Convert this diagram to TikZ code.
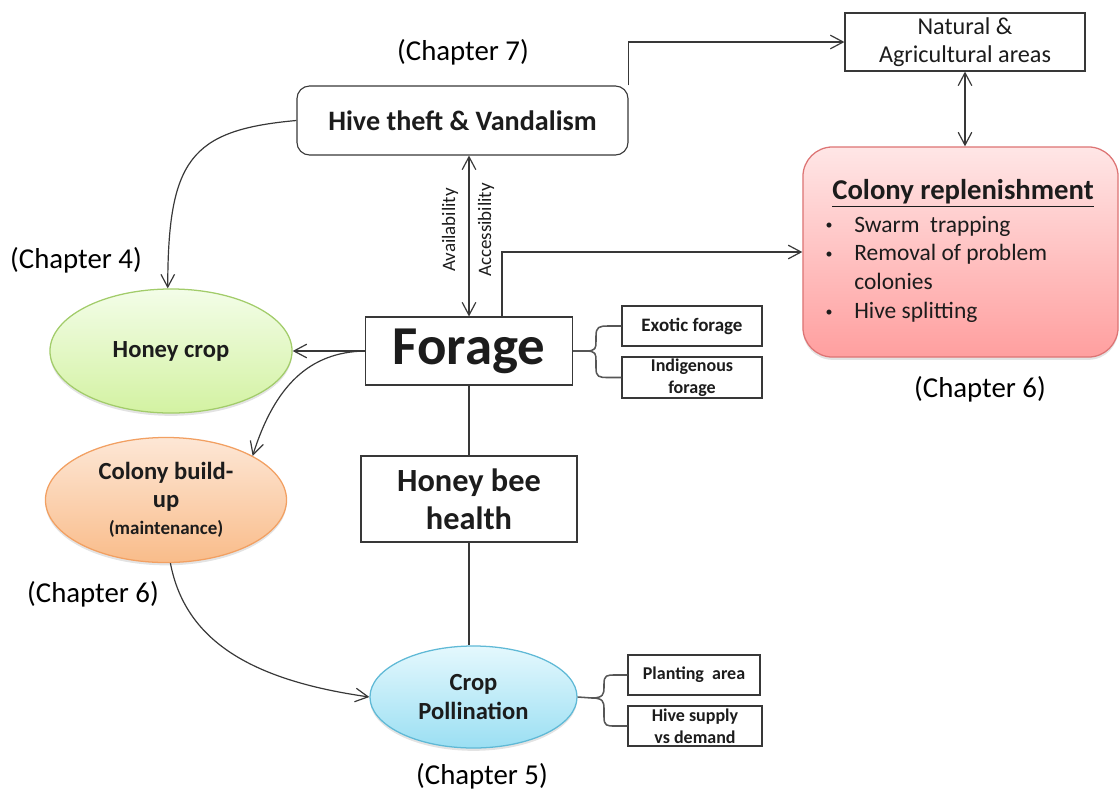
\documentclass[tikz,border=0pt]{standalone}
\usepackage{fontspec}
\setmainfont{Carlito}
\usetikzlibrary{calc,arrows.meta,shapes.geometric,shadows,positioning}

\definecolor{lineg}{HTML}{383838}
\definecolor{txt}{HTML}{1C1C1C}
\definecolor{grnT}{HTML}{F3FDE8}\definecolor{grnB}{HTML}{D3F2A2}\definecolor{grnD}{HTML}{A2CC6A}
\definecolor{orgT}{HTML}{FDE7D6}\definecolor{orgB}{HTML}{F9BC8A}\definecolor{orgD}{HTML}{F2A062}
\definecolor{bluT}{HTML}{E4F8FD}\definecolor{bluB}{HTML}{9BDFF3}\definecolor{bluD}{HTML}{5FB9D6}
\definecolor{redT}{HTML}{FFE6E6}\definecolor{redB}{HTML}{FF9F9F}\definecolor{redD}{HTML}{DD7474}
\newcommand{\fsz}[2]{\fontsize{#1}{#2}\selectfont}
\newcommand{\blt}{\makebox[0.75cm][l]{\hspace{1pt}\raisebox{1.5pt}{\fsz{10}{12}\textbullet}}}

\begin{document}
\begin{tikzpicture}[x=0.025cm,y=-0.025cm,
  box/.style={rectangle,draw=lineg,line width=0.8pt,fill=white,inner sep=0pt,align=center,text=txt},
  oval/.style={ellipse,line width=0.9pt,inner sep=0pt,align=center,text=txt,font=\bfseries\fsz{17.5}{20},
     drop shadow={opacity=0.22,shadow xshift=0pt,shadow yshift=-2pt}},
  small/.style={box,font=\bfseries\fsz{12.8}{15.6}},
  chap/.style={font=\fsz{20.5}{24},text=black,inner sep=0pt},
  arr/.style={-{Straight Barb[length=3.2mm,width=3.4mm]},line width=0.85pt,color=lineg},
  darr/.style={arr,{Straight Barb[length=3.2mm,width=3.4mm]}-{Straight Barb[length=3.2mm,width=3.4mm]}},
  ln/.style={line width=0.85pt,color=lineg},
  brc/.style={line width=1.1pt,color=lineg!85}]
	\useasboundingbox (0,0) rectangle (1120,791);
	%%boxes
	\node[box,rounded corners=9pt,minimum width=8.275cm,minimum height=1.725cm,font=\bfseries\fsz{20}{24}] (hive) at (462.5,120.5) {Hive theft \& Vandalism};
	\node[box,minimum width=6cm,minimum height=1.45cm,font=\fsz{17.2}{19.9}] (nat) at (965,42) {Natural \&\\Agricultural areas};
	\node[rectangle,rounded corners=21pt,draw=redD,line width=0.9pt,top color=redT,bottom color=redB,minimum width=7.875cm,minimum height=5.25cm,
	      drop shadow={opacity=0.22,shadow xshift=0pt,shadow yshift=-2pt}] (repl) at (960.5,252) {};
	\node[font=\bfseries\fsz{20.4}{24},text=txt,inner sep=0pt] (replt) at (963,193) {\underline{Colony replenishment}};
	\node[font=\fsz{16.7}{20.6},text=txt,inner sep=0pt,anchor=base west] (repll) at (824,232)
	  {\begin{tabular}[t]{@{}l@{}l@{}}
	   \blt & Swarm~ trapping\\
	   \blt & Removal of problem\\
	   & colonies\\
	   \blt & Hive splitting
	   \end{tabular}};
	\node[box,minimum width=5.175cm,minimum height=1.7cm,font=\bfseries\fsz{39}{44}] (forage) at (469,351) {Forage};
	\node[small,minimum width=3.5cm,minimum height=1cm,font=\bfseries\fsz{13.5}{15.6}] (exotic) at (692,326) {Exotic forage};
	\node[small,minimum width=3.5cm,minimum height=1.025cm] (indig) at (692,377.5) {Indigenous\\forage};
	\node[box,minimum width=5.4cm,minimum height=2.15cm,font=\bfseries\fsz{23}{27}] (hbh) at (469,499) {Honey bee\\health};
	\node[small,minimum width=3.3cm,minimum height=1cm] (plant) at (694,675) {Planting~ area};
	\node[small,minimum width=3.35cm,minimum height=1cm] (hsup) at (695,726) {Hive supply\\vs demand};
	%%ovals
	\node[oval,draw=grnD,top color=grnT,bottom color=grnB,minimum width=6.05cm,minimum height=3.1cm] (honey) at (171,351) {Honey crop};
	\node[oval,draw=orgD,top color=orgT,bottom color=orgB,minimum width=6.025cm,minimum height=3.125cm] (build) at (166,500)
	  {Colony build-\\up\\[-1pt]{\fsz{13.5}{15}(maintenance)}};
	\node[oval,draw=bluD,top color=bluT,bottom color=bluB,minimum width=5.175cm,minimum height=2.55cm] (crop) at (473.5,697) {Crop\\Pollination};
	%%chapter labels
	\node[chap] (ch7) at (463,52) {(Chapter 7)};
	\node[chap] (ch4) at (76,260) {(Chapter 4)};
	\node[chap] (ch6a) at (93,594) {(Chapter 6)};
	\node[chap] (ch6b) at (980,389) {(Chapter 6)};
	\node[chap] (ch5) at (482,776) {(Chapter 5)};
	%%link labels
	\node[rotate=90,font=\fsz{13.5}{16},text=txt,inner sep=0pt] (avail) at (450,230) {Availability};
	\node[rotate=90,font=\fsz{13.5}{16},text=txt,inner sep=0pt] (access) at (486,230) {Accessibility};
	%%connectors
	\draw[arr] (hive.north east) |- (nat.west);
	\draw[darr] (nat.south) -- (repl.north -| nat.south);
	\draw[darr] (forage.north |- hive.south) -- (forage.north);
	\draw[arr] ($(forage.north)+(33,0)$) |- (repl.west);
	\draw[arr] (forage.west) -- (honey.east);
	\draw[arr] (forage.west) .. controls (310,352) and (275,385) .. (build.27);
	\draw[arr] (hive.west) .. controls (190,130) and (168,160) .. (honey.93);
	\draw[arr] (build.-86) .. controls (185,640) and (250,680) .. (crop.west);
	\draw[ln] (forage.south) -- (hbh.north);
	\draw[ln] (hbh.south) -- (hbh.south |- crop.north);
	%%braces
	\draw[brc] (forage.east) -- (586,351) .. controls (596,351) and (596,348) .. (596,341) -- (596,336) .. controls (596,327) and (599,326) .. (608,326) -- (exotic.west);
	\draw[brc] (586,351) .. controls (596,351) and (596,354) .. (596,361) -- (596,368) .. controls (596,377) and (599,377.5) .. (608,377.5) -- (indig.west);
	\draw[brc] (crop.east) -- (592,698) .. controls (603,698) and (604,694) .. (604,688) -- (604,684) .. controls (604,675) and (607,675) .. (615,675) -- (plant.west);
	\draw[brc] (592,698) .. controls (603,698) and (604,702) .. (604,708) -- (604,717) .. controls (604,726) and (607,726) .. (615,726) -- (hsup.west);
\end{tikzpicture}
\end{document}
